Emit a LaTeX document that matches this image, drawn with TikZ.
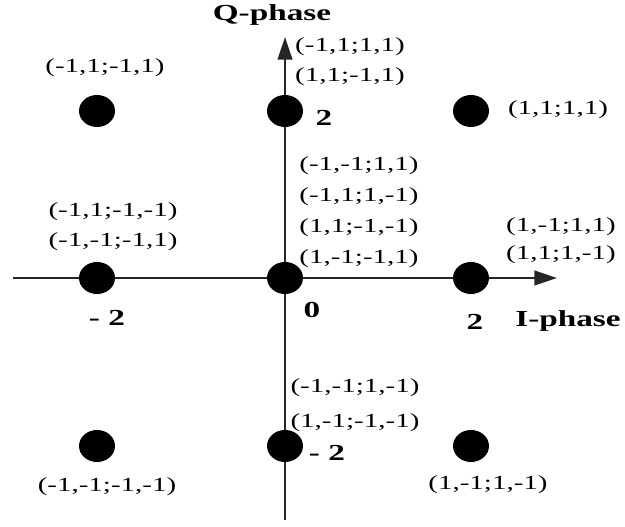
\documentclass[tikz,border=0pt]{standalone}
\usepackage{fontspec}
\setmainfont{Liberation Serif}[FakeStretch=1.45]
\usetikzlibrary{shapes.geometric,arrows.meta}
\tikzset{
  point/.style = {ellipse, fill=black, inner sep=0pt, minimum width=27pt, minimum height=24pt},
  bits/.style = {align=center, inner sep=0pt, font=\fontsize{15}{22.5}\selectfont},
  tick/.style = {inner sep=0pt, font=\fontsize{17.2}{18}\selectfont\bfseries},
  axis/.style = {draw=black!85, line width=1.7pt, -{Triangle[length=17pt, width=11pt]}}
}

\begin{document}
\begin{tikzpicture}[x=0.75pt, y=-0.75pt]
  \useasboundingbox (0,0) rectangle (625,527);
  % axes
  \coordinate (i_start) at (13,278);
  \coordinate (i_end) at (557,278);
  \coordinate (q_start) at (285,520);
  \coordinate (q_end) at (285,37);
  \draw [axis] (i_start) -- (i_end);
  \draw [axis] (q_start) -- (q_end);
  \node [tick] (i_name) at (568,321) {I-phase};
  \node [tick] (q_name) at (272,15) {Q-phase};
  % constellation points
  \foreach \name/\x/\y in {nw/97/111, n/285/111, ne/471/111,
                           w/97/278, o/285/278, e/471/278,
                           sw/97/446, s/285/446, se/471/446}
    \node [point] (\name) at (\x,\y) {};
  % amplitude values
  \node [tick] (t_n) at (324,118) {2};
  \node [tick] (t_w) at (107,318) {- 2};
  \node [tick] (t_o) at (312,310) {0};
  \node [tick] (t_e) at (475,322) {2};
  \node [tick] (t_s) at (327,453) {- 2};
  % bit patterns
  \node [bits] (b_nw) at (105,68) {(-1,1;-1,1)};
  \node [bits] (b_n) at (350,62) {(-1,1;1,1)\\(1,1;-1,1)};
  \node [bits] (b_ne) at (558,110) {(1,1;1,1)};
  \node [bits] (b_w) at (113,227) {(-1,1;-1,-1)\\(-1,-1;-1,1)};
  \node [bits, font=\fontsize{15}{23.3}\selectfont] (b_o) at (359,212) {(-1,-1;1,1)\\(-1,1;1,-1)\\(1,1;-1,-1)\\(1,-1;-1,1)};
  \node [bits, font=\fontsize{15}{21}\selectfont] (b_e) at (561,241) {(1,-1;1,1)\\(1,1;1,-1)};
  \node [bits, font=\fontsize{15}{26}\selectfont] (b_s) at (355,405) {(-1,-1;1,-1)\\(1,-1;-1,-1)};
  \node [bits] (b_sw) at (107,487) {(-1,-1;-1,-1)};
  \node [bits] (b_se) at (488,485) {(1,-1;1,-1)};
\end{tikzpicture}
\end{document}
